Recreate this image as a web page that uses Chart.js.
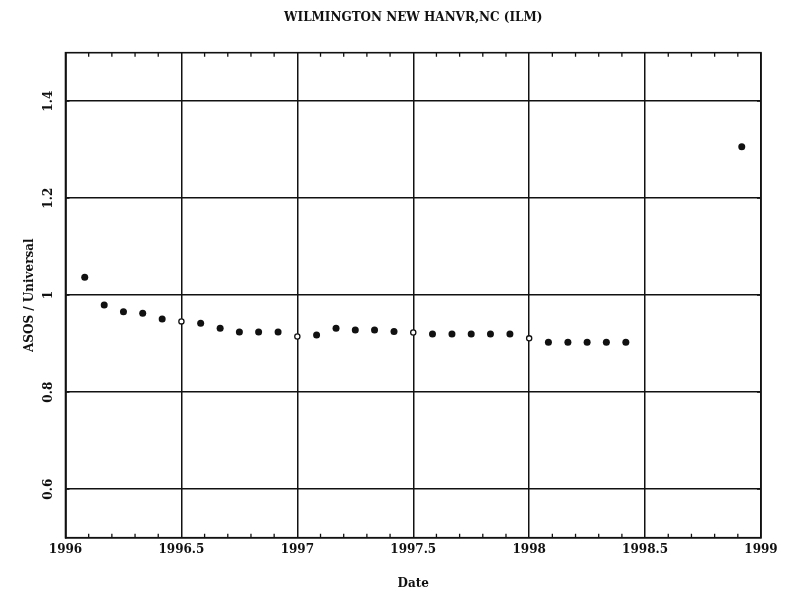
<!DOCTYPE html>
<html>
<head>
<meta charset="utf-8">
<script src="https://cdn.jsdelivr.net/npm/chart.js@4.4.1/dist/chart.umd.min.js"></script>
<style>
  html, body { margin: 0; padding: 0; background: #fff; }
  #wrap { width: 793px; height: 591px; }
</style>
</head>
<body>
<div id="wrap"><canvas id="c" width="793" height="591"></canvas></div>
<script>
// Station and axis text
const stationTitle = 'WILMINGTON NEW HANVR,NC (ILM)';
const xAxisTitle = 'Date';
const yAxisTitle = 'ASOS / Universal';

// Monthly observation dates (decimal years)
const dates = [
  1996.083, 1996.167, 1996.250, 1996.333, 1996.417, 1996.500,
  1996.583, 1996.667, 1996.750, 1996.833, 1996.917, 1997.000,
  1997.083, 1997.167, 1997.250, 1997.333, 1997.417, 1997.500,
  1997.583, 1997.667, 1997.750, 1997.833, 1997.917, 1998.000,
  1998.083, 1998.167, 1998.250, 1998.333, 1998.417, 1998.917
];

// ASOS / Universal gauge ratio for each date
const ratios = [
  1.037, 0.980, 0.966, 0.963, 0.951, 0.946,
  0.942, 0.932, 0.924, 0.924, 0.924, 0.915,
  0.918, 0.932, 0.928, 0.928, 0.925, 0.923,
  0.920, 0.920, 0.920, 0.920, 0.920, 0.911,
  0.903, 0.903, 0.903, 0.903, 0.903, 1.306
];

// Tick values
const xTickValues = [1996, 1996.5, 1997, 1997.5, 1998, 1998.5, 1999];
const yTickValues = [0.6, 0.8, 1.0, 1.2, 1.4];
const xRange = [1996, 1999];
const yRange = [0.5, 1.5];

const FONT = '"DejaVu Serif", "Liberation Serif", serif';

// Plot frame plus small inward minor ticks on all four sides
const frameTicks = {
  id: 'frameTicks',
  afterDraw(chart) {
    const { ctx, chartArea: a, scales: { x, y } } = chart;
    const len = 4;
    ctx.save();
    ctx.strokeStyle = '#111';
    ctx.lineWidth = 1.3;
    for (let i = 1; i < 30; i++) {
      if (i % 5 === 0) continue;
      const px = x.getPixelForValue(xRange[0] + i / 10);
      ctx.beginPath();
      ctx.moveTo(px, a.bottom); ctx.lineTo(px, a.bottom - len);
      ctx.moveTo(px, a.top); ctx.lineTo(px, a.top + len);
      ctx.stroke();
    }
    for (let j = 1; j < 10; j += 2) {
      const py = y.getPixelForValue(yRange[0] + j / 10);
      ctx.beginPath();
      ctx.moveTo(a.left, py); ctx.lineTo(a.left + len, py);
      ctx.moveTo(a.right, py); ctx.lineTo(a.right - len, py);
      ctx.stroke();
    }
    ctx.lineWidth = 1.6;
    ctx.strokeRect(a.left, a.top, a.right - a.left, a.bottom - a.top);
    ctx.restore();
  }
};

const onGridLine = (c) => {
  const v = c.raw ? c.raw.x : 0;
  return Math.abs(v * 2 - Math.round(v * 2)) < 0.01;
};

new Chart(document.getElementById('c'), {
  type: 'scatter',
  data: {
    datasets: [{
      data: dates.map((d, i) => ({ x: d, y: ratios[i] })),
      pointRadius: (c) => onGridLine(c) ? 2.6 : 3.5,
      pointBackgroundColor: (c) => onGridLine(c) ? '#fff' : '#111',
      pointBorderColor: '#111',
      pointBorderWidth: (c) => onGridLine(c) ? 1.3 : 0,
      showLine: false
    }]
  },
  options: {
    responsive: false,
    animation: false,
    devicePixelRatio: 1,
    layout: { padding: { left: 0, right: 32, top: 0, bottom: 0 } },
    plugins: {
      legend: { display: false },
      tooltip: { enabled: false },
      title: {
        display: true,
        fullSize: false,
        text: stationTitle,
        color: '#111',
        font: { family: FONT, size: 12, weight: 'bold' },
        padding: { top: 10.3, bottom: 28 }
      }
    },
    scales: {
      x: {
        type: 'linear',
        min: xRange[0],
        max: xRange[1],
        afterBuildTicks: (s) => { s.ticks = xTickValues.map(v => ({ value: v })); },
        afterFit: (s) => { s.height = 53.3; },
        ticks: {
          color: '#111',
          font: { family: FONT, size: 12, weight: 'bold' },
          padding: 5,
          maxRotation: 0,
          callback: (v) => String(v)
        },
        grid: { color: '#111', lineWidth: 1.5, drawTicks: false },
        border: { display: true, color: '#111', width: 1.6 },
        title: {
          display: true,
          text: xAxisTitle,
          color: '#111',
          font: { family: FONT, size: 12, weight: 'bold' },
          padding: { top: 0, bottom: 0 }
        }
      },
      y: {
        type: 'linear',
        min: yRange[0],
        max: yRange[1],
        afterBuildTicks: (s) => { s.ticks = yTickValues.map(v => ({ value: v })); },
        afterFit: (s) => { s.width = 65.5; },
        ticks: {
          color: '#111',
          font: { family: FONT, size: 12, weight: 'bold' },
          padding: 6,
          minRotation: 90,
          maxRotation: 90,
          crossAlign: 'center',
          callback: (v) => String(Math.round(v * 10) / 10)
        },
        grid: { color: '#111', lineWidth: 1.5, drawTicks: false },
        border: { display: true, color: '#111', width: 1.6 },
        title: {
          display: true,
          text: yAxisTitle,
          color: '#111',
          font: { family: FONT, size: 12, weight: 'bold' },
          padding: { top: 22.8, bottom: 0 }
        }
      }
    }
  },
  plugins: [frameTicks]
});
</script>
</body>
</html>
